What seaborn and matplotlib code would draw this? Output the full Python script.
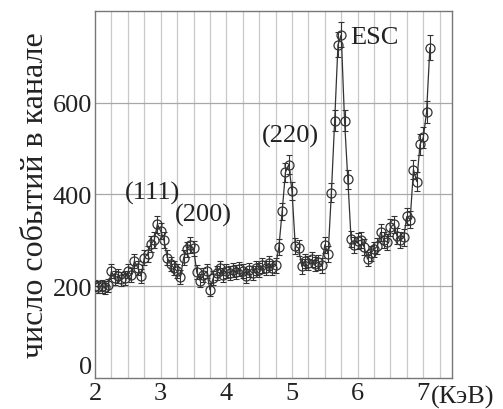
import numpy as np
import pandas as pd
import matplotlib
matplotlib.use("Agg")
import matplotlib.pyplot as plt
import seaborn as sns

# channel energies (keV) and counts
energy = [2.00, 2.05, 2.10, 2.15, 2.20, 2.25, 2.30, 2.35, 2.40, 2.45,
          2.50, 2.55, 2.60, 2.65, 2.70, 2.75, 2.80, 2.85, 2.90, 2.95,
          3.00, 3.05, 3.10, 3.15, 3.20, 3.25, 3.30, 3.35, 3.40, 3.45,
          3.50, 3.55, 3.60, 3.65, 3.70, 3.75, 3.80, 3.85, 3.90, 3.95,
          4.00, 4.05, 4.10, 4.15, 4.20, 4.25, 4.30, 4.35, 4.40, 4.45,
          4.50, 4.55, 4.60, 4.65, 4.70, 4.75, 4.80, 4.85, 4.90, 4.95,
          5.00, 5.05, 5.10, 5.15, 5.20, 5.25, 5.30, 5.35, 5.40, 5.45,
          5.50, 5.55, 5.60, 5.65, 5.70, 5.75, 5.80, 5.85, 5.90, 5.95,
          6.00, 6.05, 6.10, 6.15, 6.20, 6.25, 6.30, 6.35, 6.40, 6.45,
          6.50, 6.55, 6.60, 6.65, 6.70, 6.75, 6.80, 6.85, 6.90, 6.95,
          7.00, 7.05, 7.10]
counts = [200, 198, 200, 197, 202, 232, 218, 222, 215, 218,
          232, 225, 255, 240, 222, 262, 270, 292, 300, 335,
          320, 300, 262, 248, 240, 232, 220, 262, 280, 290,
          282, 230, 212, 225, 232, 192, 218, 228, 240, 225,
          232, 228, 235, 230, 238, 232, 222, 235, 228, 240,
          235, 245, 240, 250, 240, 245, 285, 363, 448, 465,
          407, 287, 283, 243, 255, 250, 258, 248, 252, 245,
          290, 270, 404, 561, 726, 748, 561, 433, 302, 290,
          298, 300, 285, 259, 272, 280, 287, 317, 300, 296,
          328, 335, 309, 300, 306, 352, 345, 454, 428, 509,
          524, 580, 720]
# poisson errors for the channel counts
errors = np.sqrt(counts)

peak_labels = ["(111)", "(200)", "(220)", "ESC"]
peak_x = [2.87, 3.65, 4.97, 5.88]
peak_y = [405, 357, 528, 743]
peak_ha = ["center", "center", "center", "left"]

df = pd.DataFrame({"energy": energy, "counts": counts})

sns.set_style("white")
plt.rcParams["font.family"] = ["Liberation Serif", "DejaVu Serif"]

fig = plt.figure(figsize=(5.03, 4.10), dpi=100)
ax = fig.add_axes([0.189, 0.076, 0.71, 0.895])

# light grid every 0.25 keV, horizontal lines at 200 steps
for xv in np.arange(2.25, 7.5, 0.25):
    ax.axvline(xv, color="#c8c8c8", lw=0.9, zorder=0)
for yv in [200, 400, 600]:
    ax.axhline(yv, color="#a8a8a8", lw=0.9, zorder=0)

ax.errorbar(df["energy"], df["counts"], yerr=errors, fmt="none",
            ecolor="#333333", elinewidth=0.8, capsize=2.0, capthick=0.8, zorder=2)
sns.lineplot(data=df, x="energy", y="counts", ax=ax, color="#333333", lw=0.9,
             marker="o", markersize=6.5, markerfacecolor="none",
             markeredgecolor="#333333", markeredgewidth=0.9, zorder=3)

for lab, px, py, ha in zip(peak_labels, peak_x, peak_y, peak_ha):
    ax.text(px, py, lab, fontsize=19, ha=ha, va="center", color="#222222")

ax.set_xlim(2, 7.44)
ax.set_ylim(0, 800)
ax.set_xticks([2, 3, 4, 5, 6, 7])
ax.set_yticks([0, 200, 400, 600])
ax.tick_params(axis="both", labelsize=19, length=0, pad=2, colors="#222222")
ax.tick_params(axis="x", pad=3)
# the "0" sits above the corner, as in the source figure
ax.get_yticklabels()[0].set_va("bottom")
ax.set_xlabel("")
ax.set_ylabel("число событий в канале", fontsize=23, color="#222222", labelpad=2)
ax.text(7.12, -15, "(КэВ)", fontsize=19, ha="left", va="top", color="#222222")
for s in ax.spines.values():
    s.set_color("#777777")
    s.set_linewidth(1.0)

fig.savefig("out.png", dpi=100)
